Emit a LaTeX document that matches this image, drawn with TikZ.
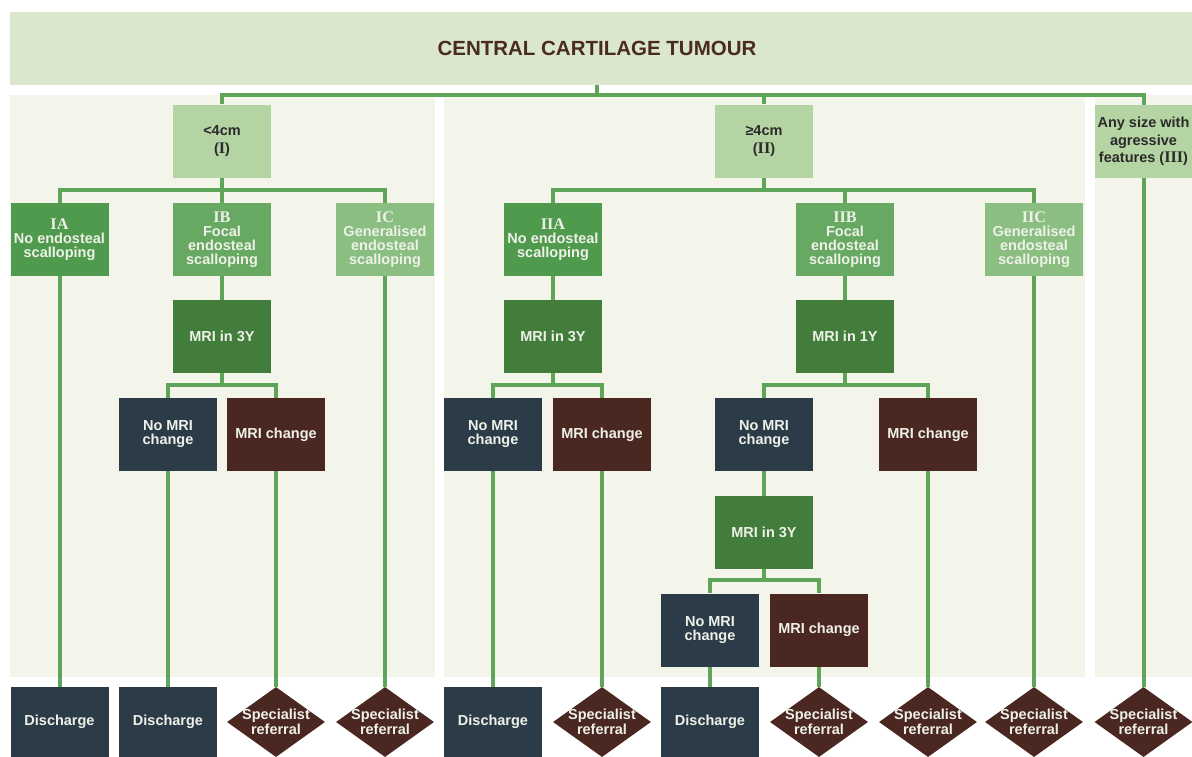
\documentclass[tikz,border=0pt]{standalone}
\usepackage{fontspec}
\setmainfont{Liberation Sans}
\newfontfamily\rom[Scale=1.12]{Liberation Serif}
\usetikzlibrary{shapes.geometric}
\pgfdeclarelayer{bg}\pgfdeclarelayer{mid}\pgfsetlayers{bg,mid,main}
\definecolor{bandcol}{HTML}{DAE7CD}
\definecolor{panelcol}{HTML}{F3F5EA}
\definecolor{lvlone}{HTML}{B5D4A3}
\definecolor{ga}{HTML}{4F9A4D}
\definecolor{gb}{HTML}{67A862}
\definecolor{gc}{HTML}{8BBF82}
\definecolor{mricol}{HTML}{437D3C}
\definecolor{slatecol}{HTML}{2C3B48}
\definecolor{refbrown}{HTML}{4A2720}
\definecolor{conncol}{HTML}{5EA55A}
\definecolor{titletext}{HTML}{4A2A22}
\definecolor{boxtext}{HTML}{EEF1E8}
\definecolor{darktext}{HTML}{2A2A2A}
\begin{document}
\begin{tikzpicture}[x=1pt,y=-1pt,
  box/.style={rectangle, minimum width=98pt, minimum height=73pt, inner sep=0pt, align=center,
    font=\bfseries\fontsize{14.5}{14}\selectfont, text=boxtext},
  levelone/.style={box, fill=lvlone, text=darktext, font=\bfseries\fontsize{14.5}{17.5}\selectfont},
  gboxa/.style={box, fill=ga},
  gboxb/.style={box, fill=gb},
  gboxc/.style={box, fill=gc},
  mribox/.style={box, fill=mricol},
  nobox/.style={box, fill=slatecol},
  chbox/.style={box, fill=refbrown},
  discharge/.style={box, fill=slatecol, minimum height=70pt},
  referral/.style={diamond, fill=refbrown, minimum width=98pt, minimum height=70pt, inner sep=0pt,
    align=center, text=boxtext, font=\bfseries\fontsize{14.5}{13.5}\selectfont},
  conn/.style={draw=conncol, line width=4pt},
  panel/.style={fill=panelcol}
]
\useasboundingbox (0,0) rectangle (1192,756);
\begin{pgfonlayer}{bg}
  \fill[white] (0,0) rectangle (1192,756);
  \fill[panel] (10,95) rectangle (435,677);
  \fill[panel] (444,95) rectangle (1085,677);
  \fill[panel] (1095,95) rectangle (1192,677);
\end{pgfonlayer}

% title
\node[rectangle, fill=bandcol, minimum width=1182pt, minimum height=73pt, inner sep=0pt,
  text=titletext, font=\bfseries\fontsize{20.5}{20.5}\selectfont] (title) at (601,48.5)
  {\hspace*{-8pt}CENTRAL CARTILAGE TUMOUR};

% level 1
\node[levelone] (L1a) at (222,141) {<4cm\\({\rom I})};
\node[levelone] (L1b) at (764,141) {≥4cm\\({\rom II})};
\node[levelone, minimum width=97pt] (L1c) at (1143.5,141.5) {Any size with\\agressive\\features ({\rom III})};

% level 2
\node[gboxa] (IA) at (59.5,239.5) {{\rom IA}\\No endosteal\\scalloping};
\node[gboxb] (IB) at (222,239.5) {{\rom IB}\\Focal\\endosteal\\scalloping};
\node[gboxc] (IC) at (385,239.5) {{\rom IC}\\Generalised\\endosteal\\scalloping};
\node[gboxa] (IIA) at (553,239.5) {{\rom IIA}\\No endosteal\\scalloping};
\node[gboxb] (IIB) at (845,239.5) {{\rom IIB}\\Focal\\endosteal\\scalloping};
\node[gboxc] (IIC) at (1034,239.5) {{\rom IIC}\\Generalised\\endosteal\\scalloping};

% MRI level
\node[mribox] (MRIa) at (222,336.5) {MRI in 3Y};
\node[mribox] (MRIb) at (553,336.5) {MRI in 3Y};
\node[mribox] (MRIc) at (845,336.5) {MRI in 1Y};

% change level
\node[nobox] (NoA) at (168,434.5) {No MRI\\change};
\node[chbox] (ChA) at (276,434.5) {MRI change};
\node[nobox] (NoB) at (493,434.5) {No MRI\\change};
\node[chbox] (ChB) at (602,434.5) {MRI change};
\node[nobox] (NoC) at (764,434.5) {No MRI\\change};
\node[chbox] (ChC) at (928,434.5) {MRI change};

\node[mribox] (MRId) at (764,532.5) {MRI in 3Y};
\node[nobox] (NoD) at (710,630) {No MRI\\change};
\node[chbox] (ChD) at (819,630) {MRI change};

% bottom row
\node[discharge] (D1) at (59.5,722) {Discharge};
\node[discharge] (D2) at (168,722) {Discharge};
\node[referral] (S1) at (276,722) {\makebox[0pt]{Specialist}\\\makebox[0pt]{referral}};
\node[referral] (S2) at (385,722) {\makebox[0pt]{Specialist}\\\makebox[0pt]{referral}};
\node[discharge] (D3) at (493,722) {Discharge};
\node[referral] (S3) at (602,722) {\makebox[0pt]{Specialist}\\\makebox[0pt]{referral}};
\node[discharge] (D4) at (710,722) {Discharge};
\node[referral] (S4) at (819,722) {\makebox[0pt]{Specialist}\\\makebox[0pt]{referral}};
\node[referral] (S5) at (928,722) {\makebox[0pt]{Specialist}\\\makebox[0pt]{referral}};
\node[referral] (S6) at (1034,722) {\makebox[0pt]{Specialist}\\\makebox[0pt]{referral}};
\node[referral] (S7) at (1143.5,722) {\makebox[0pt]{Specialist}\\\makebox[0pt]{referral}};

\coordinate (ya) at (597,95);
\coordinate (yb) at (0,190);
\coordinate (yc) at (0,385);
\coordinate (yd) at (0,580);

\begin{pgfonlayer}{mid}
  % top bar
  \draw[conn] ([xshift=-4pt]title.south) -- (ya);
  \draw[conn] (L1a.north) -- (L1a.north |- ya) -- (L1c.north |- ya) -- (L1c.north);
  \draw[conn] (L1b.north |- ya) -- (L1b.north);
  % level 2 bars
  \draw[conn] (IA.north) -- (IA.north |- yb) -- (IC.north |- yb) -- (IC.north);
  \draw[conn] (L1a.south) -- (IB.north);
  \draw[conn] (IIA.north) -- (IIA.north |- yb) -- (IIC.north |- yb) -- (IIC.north);
  \draw[conn] (L1b.south) -- (L1b.south |- yb);
  \draw[conn] (IIB.north |- yb) -- (IIB.north);
  % straight down
  \draw[conn] (IA.south) -- (D1.north);
  \draw[conn] (IC.south) -- (S2.north);
  \draw[conn] (IIC.south) -- (S6.north);
  \draw[conn] (L1c.south) -- (S7.north);
  % IB branch
  \draw[conn] (IB.south) -- (MRIa.north);
  \draw[conn] (MRIa.south) -- (MRIa.south |- yc);
  \draw[conn] (NoA.north) -- (NoA.north |- yc) -- (ChA.north |- yc) -- (ChA.north);
  \draw[conn] (NoA.south) -- (D2.north);
  \draw[conn] (ChA.south) -- (S1.north);
  % IIA branch
  \draw[conn] (IIA.south) -- (MRIb.north);
  \draw[conn] (MRIb.south) -- (MRIb.south |- yc);
  \draw[conn] (NoB.north) -- (NoB.north |- yc) -- (ChB.north |- yc) -- (ChB.north);
  \draw[conn] (NoB.south) -- (D3.north);
  \draw[conn] (ChB.south) -- (S3.north);
  % IIB branch
  \draw[conn] (IIB.south) -- (MRIc.north);
  \draw[conn] (MRIc.south) -- (MRIc.south |- yc);
  \draw[conn] (NoC.north) -- (NoC.north |- yc) -- (ChC.north |- yc) -- (ChC.north);
  \draw[conn] (ChC.south) -- (S5.north);
  \draw[conn] (NoC.south) -- (MRId.north);
  \draw[conn] (MRId.south) -- (MRId.south |- yd);
  \draw[conn] (NoD.north) -- (NoD.north |- yd) -- (ChD.north |- yd) -- (ChD.north);
  \draw[conn] (NoD.south) -- (D4.north);
  \draw[conn] (ChD.south) -- (S4.north);
\end{pgfonlayer}
\end{tikzpicture}
\end{document}
